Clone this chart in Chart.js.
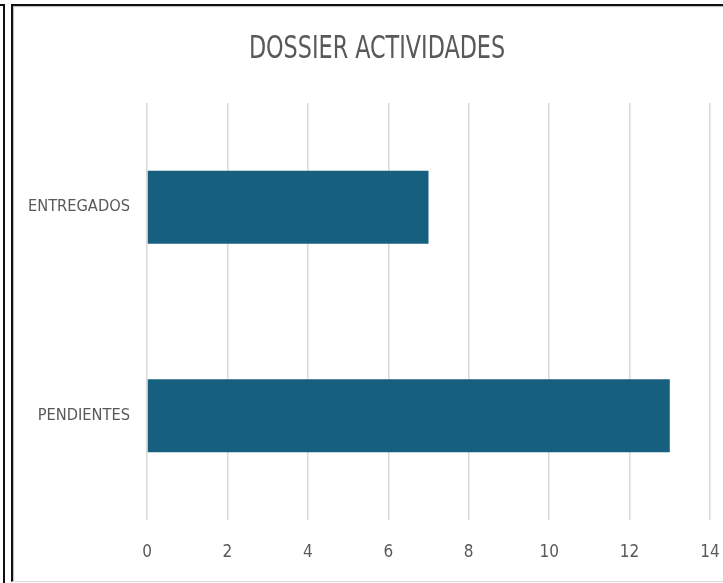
<!DOCTYPE html>
<html>
<head>
<meta charset="utf-8">
<script src="https://cdn.jsdelivr.net/npm/chart.js@4.4.1/dist/chart.umd.min.js"></script>
<style>
  html, body { margin: 0; padding: 0; background: #fff; }
  #wrap { position: relative; width: 723px; height: 583px; overflow: hidden; }
  #outer { position: absolute; left: 0; top: 4px; width: 3px; height: 600px;
           border-top: 2px solid #111; border-right: 2px solid #111; }
  #frame { position: absolute; left: 11px; top: 4px; width: 720px; height: 575px;
           border-left: 2px solid #111; border-top: 2px solid #111; border-bottom: 1px solid #d9d9d9;
           box-shadow: inset 1px 1px 1px #bbb; }
  canvas { position: absolute; left: 0; top: 0; }
  #title { position: absolute; left: 177px; top: 28px; width: 400px; text-align: center;
           font-family: 'DejaVu Sans Condensed', sans-serif; font-size: 32px; line-height: 38px;
           color: #595959; transform: scaleX(0.775); transform-origin: 200px 0; white-space: nowrap; }
</style>
</head>
<body>
<div id="wrap">
  <div id="outer"></div>
  <div id="frame"></div>
  <canvas id="chart" width="723" height="583"></canvas>
  <div id="title">DOSSIER ACTIVIDADES</div>
</div>
<script>
const categories = ['ENTREGADOS', 'PENDIENTES'];
const values = [7, 13];
const xTicks = [0, 2, 4, 6, 8, 10, 12, 14];

const narrow = "'DejaVu Sans Condensed', sans-serif";
const textColor = '#595959';

document.addEventListener('DOMContentLoaded', () => {
    const ctx = document.getElementById('chart').getContext('2d');
    new Chart(ctx, {
        type: 'bar',
        data: {
            labels: categories,
            datasets: [{
                data: values,
                backgroundColor: '#175f7f',
                borderWidth: 0,
                categoryPercentage: 0.8,
                barPercentage: 0.4375
            }]
        },
        options: {
            indexAxis: 'y',
            responsive: false,
            animation: false,
            layout: { padding: { left: 0, right: 13, top: 103, bottom: 0 } },
            plugins: {
                legend: { display: false },
                tooltip: { enabled: false },
                title: { display: false }
            },
            scales: {
                x: {
                    min: 0,
                    max: 14,
                    afterFit: (scale) => {
                        scale.height = 63;
                        scale.paddingLeft = 0;
                        scale.paddingRight = 0;
                    },
                    afterBuildTicks: (scale) => { scale.ticks = xTicks.map(v => ({ value: v })); },
                    grid: { color: '#d9d9d9', lineWidth: 1.5, drawTicks: false },
                    border: { display: false },
                    ticks: {
                        color: textColor,
                        padding: 22,
                        font: { family: narrow, size: 17 }
                    }
                },
                y: {
                    afterFit: (scale) => {
                        scale.width = 147;
                        scale.paddingTop = 0;
                        scale.paddingBottom = 0;
                    },
                    grid: { display: false, drawTicks: false },
                    border: { display: false },
                    ticks: {
                        color: textColor,
                        padding: 17,
                        font: { family: narrow, size: 16.3 }
                    }
                }
            }
        }
    });
});
</script>
</body>
</html>
